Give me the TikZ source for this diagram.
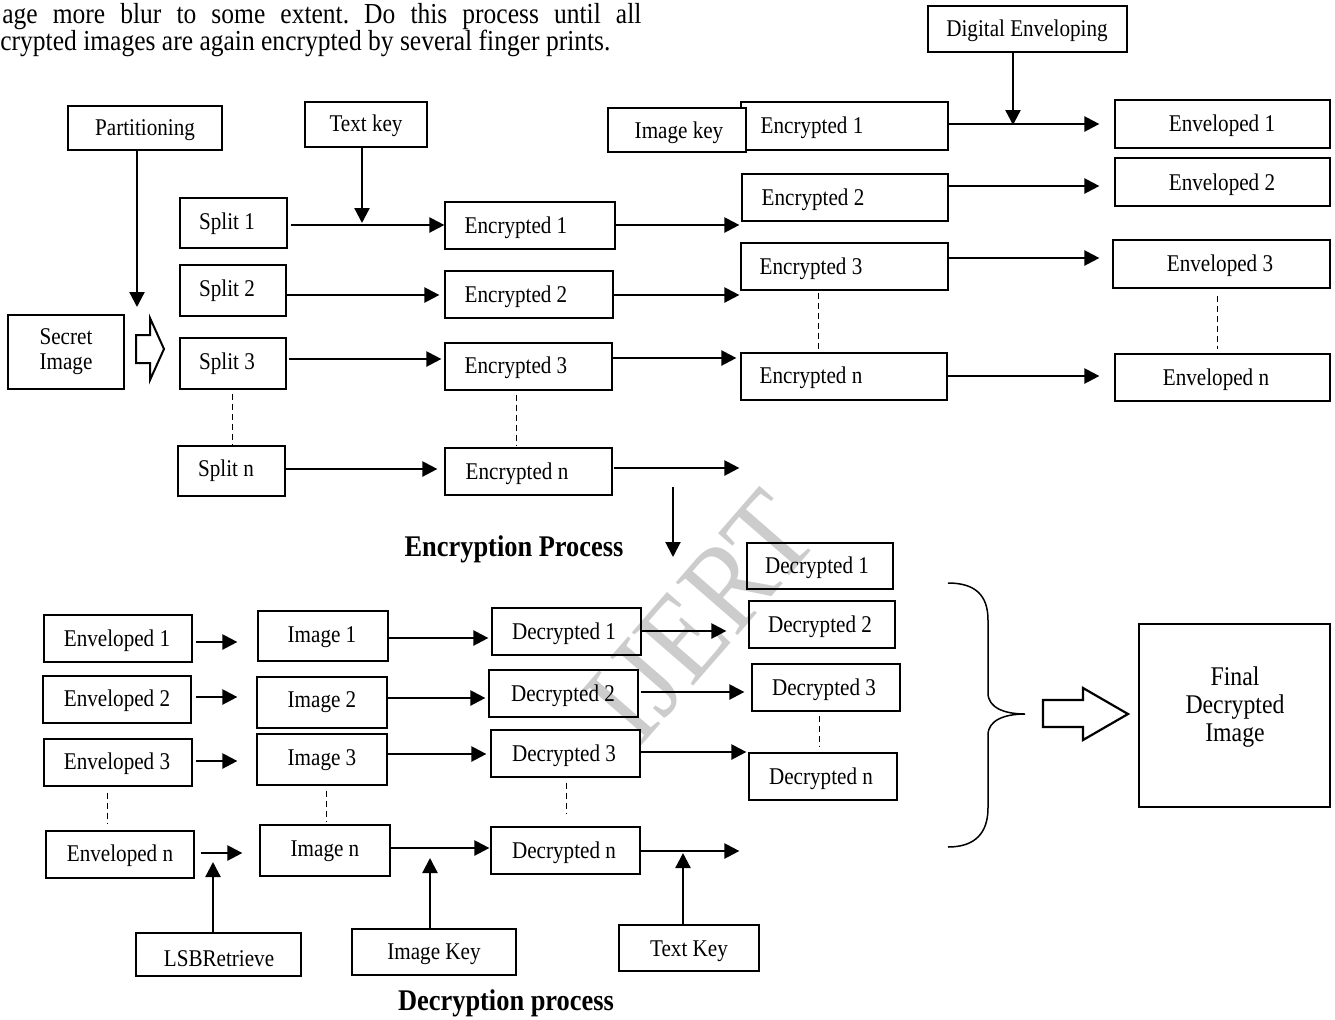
\documentclass[tikz,border=0pt]{standalone}
\usepackage{fontspec}
\setmainfont{Liberation Serif}[FakeStretch=0.88]
\usetikzlibrary{arrows.meta}
\tikzset{
 boxst/.style={draw, line width=0.6pt, fill=white, inner sep=0pt},
 txt/.style={inner sep=0pt, font=\fontsize{12}{14}\selectfont},
 arr/.style={line width=1.15pt, -{Triangle[length=7.5pt,width=7.5pt]}},
 dsh/.style={line width=0.5pt, dash pattern=on 3pt off 2pt},
 hollow/.style={draw, line width=1pt, fill=white, line join=miter},
 heading/.style={inner sep=0pt, font=\bfseries\fontsize{15}{18}\selectfont},
}
\newcommand\bx[8]{%
 \node[boxst, minimum width={(#4-#2)*0.5pt}, minimum height={(#5-#3)*0.5pt}] (#1) at ({(#2+#4)/2},{(#3+#5)/2}) {};
 \node[txt] (#1-t) at (#6,{#7+2}) {#8};}
\newcommand\harr[5]{\draw[arr, shorten <=#4pt, shorten >=#5pt] (#1.east |- 0,#3) -- (#2.west |- 0,#3);}
\newcommand\vdsh[5]{\draw[dsh, shorten <=#4pt, shorten >=#5pt] (#1.south -| #3,0) -- (#2.north -| #3,0);}
\frenchspacing
\begin{document}
\begin{tikzpicture}[x=0.5pt,y=-0.5pt]
\useasboundingbox[fill=white] (0,0) rectangle (1335,1019);
% paragraph fragment
\node[anchor=base west, inner sep=0pt, font=\fontsize{14.5}{17}\selectfont] (para1) at (2,23) {\makebox[319.5pt][s]{age more blur to some extent. Do this process until all}};
\node[anchor=base west, inner sep=0pt, font=\fontsize{14.5}{17}\selectfont] (para2) at (0,50) {crypted images are again encrypted by several finger prints.};
% ===== encryption =====
\bx{de}{928}{6}{1127}{52}{1027}{29}{Digital Enveloping}
\bx{part}{68}{106}{222}{150}{145}{128}{Partitioning}
\bx{tk}{305}{102}{427}{147}{366}{124}{Text key}
\bx{e1r}{741}{102}{948}{150}{812}{126}{Encrypted 1}
\bx{ik}{608}{108}{746}{152}{679}{131}{Image key}
\bx{env1}{1115}{100}{1330}{148}{1222}{124}{Enveloped 1}
\bx{e2r}{742}{174}{948}{221}{813}{198}{Encrypted 2}
\bx{env2}{1115}{158}{1330}{206}{1222}{183}{Enveloped 2}
\bx{e3r}{741}{243}{948}{290}{811}{267}{Encrypted 3}
\bx{env3}{1113}{240}{1330}{288}{1220}{264}{Enveloped 3}
\bx{enr}{741}{353}{947}{400}{811}{376}{Encrypted n}
\bx{envn}{1115}{354}{1330}{401}{1216}{378}{Enveloped n}
\bx{e1m}{445}{202}{615}{249}{516}{226}{Encrypted 1}
\bx{e2m}{445}{271}{613}{318}{516}{295}{Encrypted 2}
\bx{e3m}{445}{343}{612}{390}{516}{366}{Encrypted 3}
\bx{enm}{445}{448}{612}{495}{517}{472}{Encrypted n}
\bx{s1}{180}{198}{287}{248}{227}{222}{Split 1}
\bx{s2}{180}{265}{286}{316}{227}{289}{Split 2}
\bx{s3}{180}{338}{286}{389}{227}{362}{Split 3}
\bx{sn}{178}{446}{285}{496}{226}{469}{Split n}
\node[boxst, minimum width=58pt, minimum height=37pt, align=center, font=\fontsize{12}{12.5}\selectfont] (secret) at (66,352) {Secret\\Image};
\draw[hollow] (136,335) -- (150,335) -- (150,318) -- (164,349) -- (150,380) -- (150,363) -- (136,363) -- cycle;
\coordinate (partend) at (137,307);
\draw[arr] (part.south -| partend) -- (partend);
\coordinate (tkend) at (362,223);
\draw[arr] (tk.south -| tkend) -- (tkend);
\coordinate (deend) at (1013,125);
\draw[arr] (de.south -| deend) -- (deend);
\harr{s1}{e1m}{225}{1.5}{0}
\harr{s2}{e2m}{295}{0}{2.5}
\harr{s3}{e3m}{359}{1}{1.5}
\harr{sn}{enm}{469}{0}{3.5}
\harr{e1m}{e2r}{225}{0}{1}
\harr{e2m}{e3r}{295}{0}{0.5}
\harr{e3m}{enr}{358}{0}{2}
\harr{enm}{enr}{468}{0.5}{0.5}
\harr{e1r}{env1}{124}{0}{7.5}
\harr{e2r}{env2}{186}{0}{7.5}
\harr{e3r}{env3}{258}{0}{6.5}
\harr{enr}{envn}{376}{0}{7.5}
\vdsh{s3}{sn}{232}{2}{0.5}
\vdsh{e3m}{enm}{516}{2}{0.5}
\vdsh{e3r}{enr}{818}{1}{1.5}
\vdsh{env3}{envn}{1217}{3.5}{2}
\node[heading] (encp) at (514,549) {Encryption Process};
\coordinate (dn1) at (673,487);
\coordinate (dn2) at (673,557);
\draw[arr, line width=1pt] (dn1) -- (dn2);
% ===== decryption =====
\bx{dec1r}{747}{543}{893}{589}{817}{566}{Decrypted 1}
\bx{dec2r}{749}{601}{895}{648}{820}{625}{Decrypted 2}
\bx{dec3r}{752}{664}{900}{711}{824}{688}{Decrypted 3}
\bx{decnr}{749}{753}{897}{800}{821}{777}{Decrypted n}
\bx{env1b}{44}{615}{192}{662}{117}{639}{Enveloped 1}
\bx{env2b}{43}{676}{191}{723}{117}{699}{Enveloped 2}
\bx{env3b}{44}{739}{192}{786}{117}{762}{Enveloped 3}
\bx{envnb}{46}{831}{194}{878}{120}{854}{Enveloped n}
\bx{img1}{258}{611}{388}{661}{322}{635}{Image 1}
\bx{img2}{257}{677}{387}{728}{322}{700}{Image 2}
\bx{img3}{257}{734}{387}{785}{322}{758}{Image 3}
\bx{imgn}{260}{825}{390}{876}{325}{849}{Image n}
\bx{dec1m}{492}{608}{641}{655}{564}{632}{Decrypted 1}
\bx{dec2m}{489}{670}{638}{717}{563}{694}{Decrypted 2}
\bx{dec3m}{491}{730}{640}{777}{564}{754}{Decrypted 3}
\bx{decnm}{491}{827}{640}{874}{564}{851}{Decrypted n}
\bx{lsb}{136}{933}{301}{976}{219}{957}{LSBRetrieve}
\bx{ikb}{352}{929}{516}{975}{434}{952}{Image Key}
\bx{tkb}{619}{925}{759}{971}{689}{949}{Text Key}
\harr{env1b}{img1}{642}{1.5}{10}
\harr{env2b}{img2}{697}{2}{9.5}
\harr{env3b}{img3}{761}{1.5}{9.5}
\harr{envnb}{imgn}{853}{3}{8.5}
\harr{img1}{dec1m}{638}{0}{1.5}
\harr{img2}{dec2m}{698}{0}{1.5}
\harr{img3}{dec3m}{754}{0}{2}
\harr{imgn}{decnm}{848}{0}{0.5}
\harr{dec1m}{dec2r}{631}{0}{11}
\harr{dec2m}{dec3r}{692}{1}{3.5}
\harr{dec3m}{decnr}{752}{0}{1}
\harr{decnm}{decnr}{851}{0}{4.5}
\vdsh{env3b}{envnb}{107}{3}{3}
\vdsh{img3}{imgn}{326}{2.5}{1.5}
\vdsh{dec3m}{decnm}{566}{2.5}{6}
\vdsh{dec3r}{decnr}{819}{2}{2.5}
\coordinate (lsbend) at (213,862);
\draw[arr] (lsb.north -| lsbend) -- (lsbend);
\coordinate (ikend) at (430,858);
\draw[arr] (ikb.north -| ikend) -- (ikend);
\coordinate (tkbend) at (683,853);
\draw[arr] (tkb.north -| tkbend) -- (tkbend);
\node[heading] (decp) at (506,1003) {Decryption process};
% brace
\draw[line width=0.75pt] (948,583) .. controls (975,583) and (988,595) .. (988,620) -- (988,693) .. controls (988,708) and (1005,714) .. (1025,714) .. controls (1005,714) and (988,720) .. (988,735) -- (988,808) .. controls (988,833) and (975,847) .. (948,847);
\draw[hollow, line width=1.1pt] (1043,700) -- (1083,700) -- (1083,688) -- (1128,714) -- (1083,740) -- (1083,727) -- (1043,727) -- cycle;
\node[boxst, minimum width=95.5pt, minimum height=91.5pt] (final) at (1234.5,715.5) {};
\node[inner sep=0pt, align=center, font=\fontsize{13.5}{14}\selectfont] (final-t) at (1235,707) {Final\\Decrypted\\Image};
% watermark
\node[rotate=49, text=black, text opacity=0.2, inner sep=0pt, font=\fontsize{62}{62}\selectfont] (wm) at (701,617) {IJERT};
\end{tikzpicture}
\end{document}
